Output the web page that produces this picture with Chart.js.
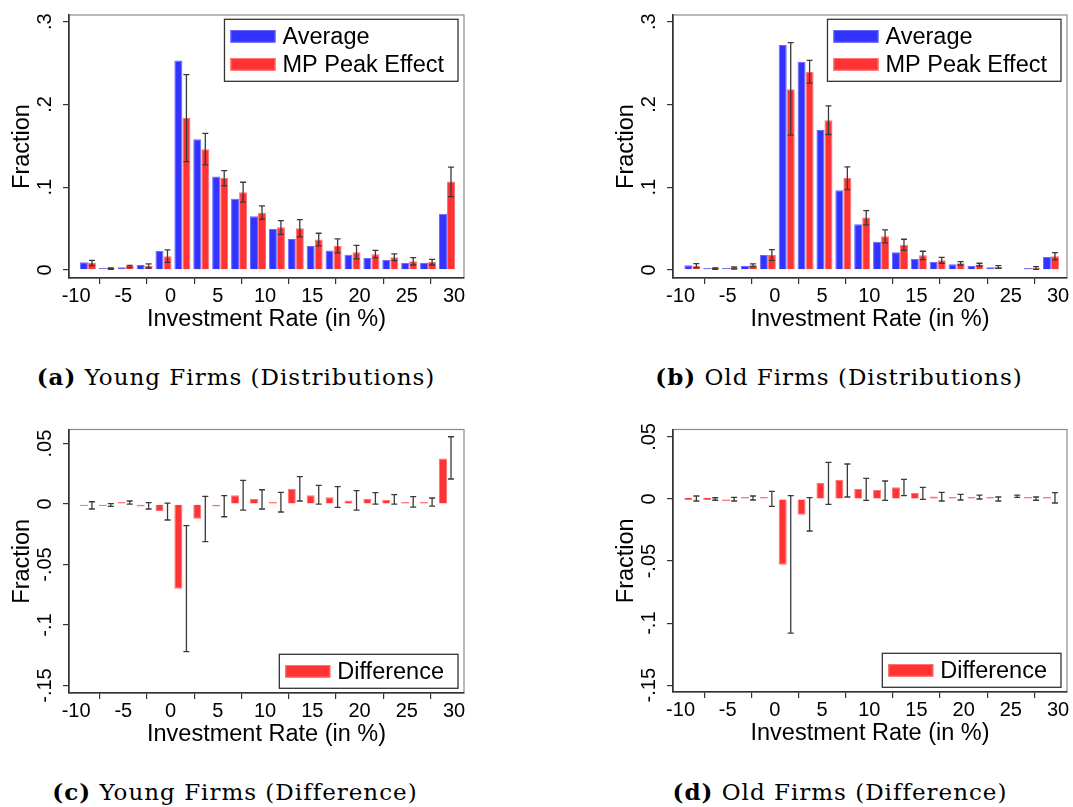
<!DOCTYPE html>
<html>
<head>
<meta charset="utf-8">
<title>Investment rate distributions</title>
<script src="https://cdn.jsdelivr.net/npm/chart.js@4.4.1/dist/chart.umd.min.js"></script>
<style>
  html, body { margin: 0; padding: 0; background: #fff; }
  body { position: relative; width: 1073px; height: 807px; overflow: hidden; }
  canvas { position: absolute; }
  .caption { position: absolute; width: 500px; text-align: center; font-family: "DejaVu Serif", serif;
             font-size: 23px; line-height: 28px; letter-spacing: 1px; white-space: nowrap; color: #000; }
</style>
</head>
<body>
<canvas id="youngDist" width="536" height="338" style="left:0px;top:0px"></canvas>
<canvas id="oldDist" width="469" height="338" style="left:604px;top:0px"></canvas>
<canvas id="youngDiffChart" width="536" height="338" style="left:0px;top:415px"></canvas>
<canvas id="oldDiffChart" width="469" height="337" style="left:604px;top:415px"></canvas>
<div class="caption" style="left:-14px;top:363px"><b>(a)</b> Young Firms (Distributions)</div>
<div class="caption" style="left:589px;top:363px"><b>(b)</b> Old Firms (Distributions)</div>
<div class="caption" style="left:-15px;top:778px"><b>(c)</b> Young Firms (Difference)</div>
<div class="caption" style="left:590px;top:778px"><b>(d)</b> Old Firms (Difference)</div>
<script>
// bins of the investment rate (in %), plotted position of each pair of bars
const binCenters = [-8.75, -6.75, -4.75, -2.75, -0.75, 1.25, 3.25, 5.25, 7.25, 9.25,
                    11.25, 13.25, 15.25, 17.25, 19.25, 21.25, 23.25, 25.25, 27.25, 29.25];

const xTicks = [-10, -5, 0, 5, 10, 15, 20, 25, 30];
const xTickLabels = ['-10', '-5', '0', '5', '10', '15', '20', '25', '30'];
const yTicksDist = [0, 0.1, 0.2, 0.3];
const yTickLabelsDist = ['0', '.1', '.2', '.3'];
const yTicksDiff = [-0.15, -0.1, -0.05, 0, 0.05];
const yTickLabelsDiff = ['-.15', '-.1', '-.05', '0', '.05'];

// young firms
const youngAvg    = [0.0093, 0.0024, 0.0032, 0.006, 0.023, 0.253, 0.158, 0.113, 0.086, 0.065,
                     0.0496, 0.0375, 0.029, 0.0234, 0.0185, 0.0145, 0.012, 0.0085, 0.0085, 0.068];
const youngPeak   = [0.0085, 0.0016, 0.0048, 0.0048, 0.0165, 0.1835, 0.146, 0.111, 0.094, 0.069,
                     0.0516, 0.0504, 0.0367, 0.029, 0.0214, 0.019, 0.0153, 0.0105, 0.0097, 0.1069];
const youngPeakLo = [0.0052, 0.0008, 0.0032, 0.0024, 0.0093, 0.131, 0.127, 0.1016, 0.082, 0.0613,
                     0.0431, 0.0399, 0.029, 0.0206, 0.0133, 0.0145, 0.0113, 0.006, 0.006, 0.0887];
const youngPeakHi = [0.0117, 0.0024, 0.0056, 0.0073, 0.0242, 0.236, 0.165, 0.120, 0.106, 0.0774,
                     0.0597, 0.0609, 0.0444, 0.0375, 0.0298, 0.0238, 0.0194, 0.0149, 0.0129, 0.1242];

// old firms
const oldAvg    = [0.0056, 0.0016, 0.0024, 0.0048, 0.018, 0.272, 0.2516, 0.169, 0.0964, 0.0552,
                   0.034, 0.0214, 0.0133, 0.0097, 0.0069, 0.0048, 0.0032, null, 0.002, 0.0157];
const oldPeak   = [0.0052, 0.0016, 0.0024, 0.0056, 0.018, 0.2185, 0.2395, 0.181, 0.111, 0.0633,
                   0.0407, 0.0306, 0.0177, 0.0117, 0.0081, 0.0065, 0.0036, null, 0.0024, 0.0165];
const oldPeakLo = [0.0028, 0.0008, 0.0012, 0.004, 0.0117, 0.163, 0.2258, 0.1637, 0.0972, 0.0544,
                   0.0327, 0.0238, 0.0125, 0.0081, 0.006, 0.0048, 0.002, null, 0.0008, 0.0121];
const oldPeakHi = [0.0077, 0.0024, 0.0036, 0.0073, 0.0246, 0.2746, 0.2532, 0.1984, 0.1246, 0.0718,
                   0.0484, 0.0371, 0.0226, 0.0153, 0.0101, 0.0081, 0.0052, null, 0.004, 0.021];

// differences (peak effect minus average)
const youngDiff   = [-0.0006, -0.0008, 0.0008, -0.002, -0.006, -0.07, -0.0121, -0.002, 0.0072, 0.0041,
                     0.0017, 0.0127, 0.0072, 0.0055, 0.003, 0.0044, 0.0033, 0.0017, 0.0017, 0.0377];
const youngDiffLo = [-0.0041, -0.0019, 0.0, -0.0041, -0.0132, -0.122, -0.0311, -0.0105, -0.005, -0.0041,
                     -0.0066, 0.0025, 0.0, -0.0028, -0.005, 0.0, 0.0, -0.0025, -0.0017, 0.0207];
const youngDiffHi = [0.0019, 0.0003, 0.0025, 0.0011, 0.0008, -0.0179, 0.0063, 0.0069, 0.0196, 0.0118,
                     0.0096, 0.0226, 0.0154, 0.0143, 0.011, 0.0094, 0.0077, 0.0061, 0.005, 0.0556];
const oldDiff     = [0.0, 0.0, -0.0003, 0.0008, 0.0005, -0.0529, -0.0126, 0.0129, 0.0153, 0.008,
                     0.0072, 0.0094, 0.0048, 0.0021, 0.0013, 0.0013, 0.0005, null, 0.0003, 0.0003];
const oldDiffLo   = [-0.0016, -0.001, -0.0016, -0.0008, -0.0059, -0.108, -0.0258, -0.0043, 0.0016, -0.0011,
                     -0.0011, 0.0027, -0.0003, -0.0016, -0.0008, 0.0, -0.0016, 0.0013, -0.001, -0.0032];
const oldDiffHi   = [0.0024, 0.001, 0.0013, 0.0024, 0.0062, 0.0027, 0.0011, 0.0295, 0.0282, 0.0166,
                     0.0145, 0.0158, 0.0094, 0.0054, 0.0038, 0.0032, 0.0016, 0.0032, 0.0016, 0.0051];

const FONT = '"Liberation Sans", Arial, Helvetica, sans-serif';
const BLUE = 'rgb(51,51,255)', BLUE_EDGE = 'rgb(105,105,255)';
const RED = 'rgb(255,51,51)', RED_EDGE = 'rgb(255,115,115)';

const toPoints = vals => binCenters.map((x, i) => ({ x: x, y: vals[i] }));

// frame, error bars, rotated y labels and the boxed legend
const stataDecor = {
    id: 'stataDecor',
    beforeDraw(chart) {
        const { ctx, chartArea: a } = chart;
        ctx.save();
        ctx.strokeStyle = '#8a8a8a';
        ctx.lineWidth = 1.2;
        ctx.strokeRect(a.left, a.top, a.right - a.left, a.bottom - a.top);
        ctx.restore();
    },
    afterDatasetsDraw(chart, args, opts) {
        const eb = opts.errorBars;
        const meta = chart.getDatasetMeta(eb.datasetIndex);
        const yScale = chart.scales.y;
        const ctx = chart.ctx;
        ctx.save();
        ctx.strokeStyle = '#3a3a3a';
        ctx.lineWidth = 1.3;
        eb.lo.forEach((lo, i) => {
            const hi = eb.hi[i];
            if (lo == null || hi == null) return;
            const x = meta.data[i].x;
            const y1 = yScale.getPixelForValue(lo);
            const y2 = yScale.getPixelForValue(hi);
            ctx.beginPath();
            ctx.moveTo(x, y1); ctx.lineTo(x, y2);
            ctx.moveTo(x - 3, y1); ctx.lineTo(x + 3, y1);
            ctx.moveTo(x - 3, y2); ctx.lineTo(x + 3, y2);
            ctx.stroke();
        });
        ctx.restore();
    },
    afterDraw(chart, args, opts) {
        const { ctx, chartArea: a } = chart;
        const yScale = chart.scales.y;
        ctx.save();
        ctx.font = '20px ' + FONT;
        ctx.fillStyle = '#000';
        ctx.textAlign = 'center';
        ctx.textBaseline = 'middle';
        yScale.ticks.forEach((t, i) => {
            ctx.save();
            ctx.translate(a.left - 24, yScale.getPixelForValue(t.value));
            ctx.rotate(-Math.PI / 2);
            ctx.fillText(opts.yLabels[i], 0, 0);
            ctx.restore();
        });

        // legend
        const items = chart.data.datasets.filter(d => d.label);
        ctx.font = '23.5px ' + FONT;
        const textW = Math.max(...items.map(d => ctx.measureText(d.label).width));
        const rowH = 28, sw = 45;
        const w = 6 + sw + 7 + textW + 14;
        const h = items.length * rowH + 6;
        const x0 = a.right - 6 - w;
        const y0 = opts.legendAt === 'bottom' ? a.bottom - 4.7 - h : a.top + 4.3;
        ctx.fillStyle = '#fff';
        ctx.fillRect(x0, y0, w, h);
        ctx.strokeStyle = '#333';
        ctx.lineWidth = 1.3;
        ctx.strokeRect(x0, y0, w, h);
        items.forEach((d, i) => {
            const cy = y0 + 3 + rowH * i + rowH / 2;
            ctx.fillStyle = d.backgroundColor;
            ctx.fillRect(x0 + 6, cy - 6.3, sw, 12.6);
            ctx.strokeStyle = d.borderColor;
            ctx.lineWidth = 1;
            ctx.strokeRect(x0 + 6.5, cy - 5.8, sw - 1, 11.6);
            ctx.fillStyle = '#000';
            ctx.textAlign = 'left';
            ctx.textBaseline = 'middle';
            ctx.fillText(d.label, x0 + 6 + sw + 7, cy + 1);
        });
        ctx.restore();
    }
};

function makeChart(id, cfg) {
    return new Chart(document.getElementById(id), {
        type: 'bar',
        data: { datasets: cfg.datasets },
        options: {
            responsive: false,
            animation: false,
            events: [],
            layout: { padding: { left: 0, right: cfg.padRight, top: cfg.padTop, bottom: 0 } },
            datasets: { bar: { categoryPercentage: 0.85, barPercentage: 1, minBarLength: 2, borderWidth: 1 } },
            plugins: {
                legend: { display: false },
                tooltip: { enabled: false },
                stataDecor: { errorBars: cfg.errorBars, yLabels: cfg.yLabels, legendAt: cfg.legendAt }
            },
            scales: {
                x: {
                    type: 'linear',
                    min: cfg.xMin,
                    max: cfg.xMax,
                    offset: false,
                    afterBuildTicks: s => { s.ticks = xTicks.map(v => ({ value: v })); },
                    afterFit: s => { s.height = 60; },
                    grid: { display: true, drawOnChartArea: false, drawTicks: true, tickLength: 6, color: '#333', lineWidth: 1.2 },
                    border: { display: true, color: '#333', width: 1.6 },
                    ticks: {
                        color: '#000', padding: 0, maxRotation: 0, autoSkip: false,
                        font: { family: FONT, size: 20 },
                        callback: (v, i) => xTickLabels[i]
                    },
                    title: {
                        display: true, text: 'Investment Rate (in %)', color: '#000',
                        font: { family: FONT, size: 23.5 }, padding: { top: 0, bottom: 3.9 }
                    }
                },
                y: {
                    min: cfg.yMin,
                    max: cfg.yMax,
                    afterBuildTicks: s => { s.ticks = cfg.yTicks.map(v => ({ value: v })); },
                    afterFit: s => { s.width = 69; },
                    grid: { display: true, drawOnChartArea: false, drawTicks: true, tickLength: 6, color: '#333', lineWidth: 1.2 },
                    border: { display: true, color: '#333', width: 1.6 },
                    ticks: { display: false },
                    title: {
                        display: true, text: 'Fraction', color: '#000',
                        font: { family: FONT, size: 23.5 }, padding: 8.4
                    }
                }
            }
        },
        plugins: [stataDecor]
    });
}

function distDatasets(avg, peak) {
    return [
        { label: 'Average', data: toPoints(avg), backgroundColor: BLUE, borderColor: BLUE_EDGE },
        { label: 'MP Peak Effect', data: toPoints(peak), backgroundColor: RED, borderColor: RED_EDGE }
    ];
}

function diffDatasets(diff) {
    return [
        { label: 'Difference', data: toPoints(diff), backgroundColor: RED, borderColor: RED_EDGE },
        // empty slot next to each difference bar, the confidence band sits here
        { label: '', data: toPoints(diff.map(() => null)), backgroundColor: 'rgba(0,0,0,0)', borderColor: 'rgba(0,0,0,0)' }
    ];
}

makeChart('youngDist', {
    datasets: distDatasets(youngAvg, youngPeak),
    errorBars: { datasetIndex: 1, lo: youngPeakLo, hi: youngPeakHi },
    yTicks: yTicksDist, yLabels: yTickLabelsDist, legendAt: 'top',
    xMin: -10.75, xMax: 31.05, yMin: -0.0097, yMax: 0.3081,
    padRight: 72, padTop: 15
});

makeChart('oldDist', {
    datasets: distDatasets(oldAvg, oldPeak),
    errorBars: { datasetIndex: 1, lo: oldPeakLo, hi: oldPeakHi },
    yTicks: yTicksDist, yLabels: yTickLabelsDist, legendAt: 'top',
    xMin: -10.8, xMax: 30.95, yMin: -0.0097, yMax: 0.3081,
    padRight: 6, padTop: 15
});

makeChart('youngDiffChart', {
    datasets: diffDatasets(youngDiff),
    errorBars: { datasetIndex: 1, lo: youngDiffLo, hi: youngDiffHi },
    yTicks: yTicksDiff, yLabels: yTickLabelsDiff, legendAt: 'bottom',
    xMin: -10.75, xMax: 31.05, yMin: -0.1562, yMax: 0.0616,
    padRight: 72, padTop: 14.5
});

makeChart('oldDiffChart', {
    datasets: diffDatasets(oldDiff),
    errorBars: { datasetIndex: 1, lo: oldDiffLo, hi: oldDiffHi },
    yTicks: yTicksDiff, yLabels: yTickLabelsDiff, legendAt: 'bottom',
    xMin: -10.8, xMax: 30.95, yMin: -0.1555, yMax: 0.056,
    padRight: 6, padTop: 14.5
});
</script>
</body>
</html>
